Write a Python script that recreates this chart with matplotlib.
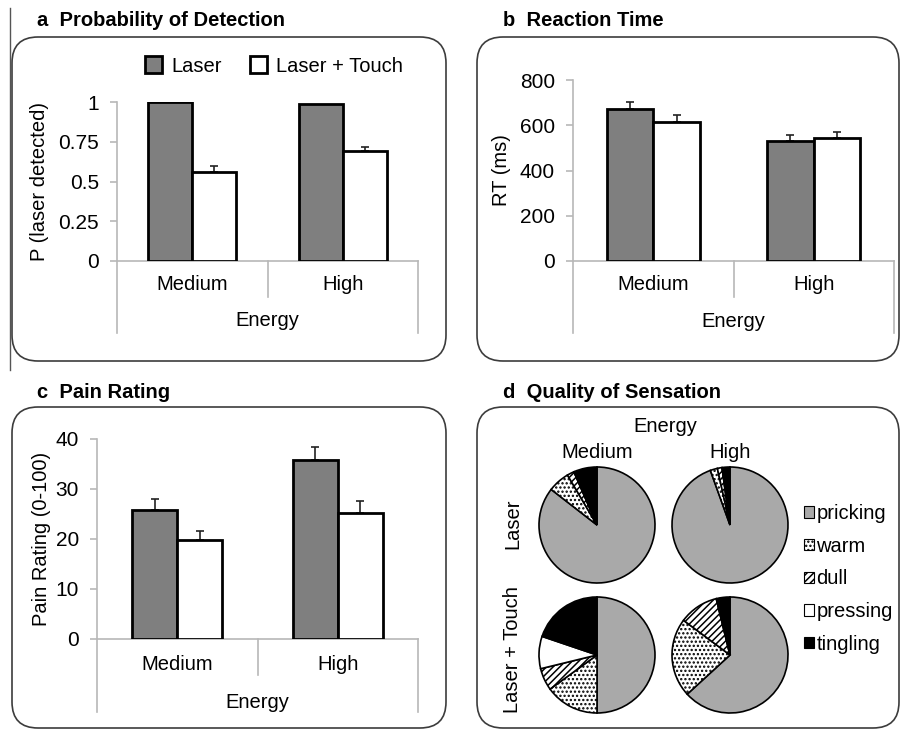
import matplotlib
matplotlib.use("Agg")
import matplotlib.pyplot as plt
from matplotlib.patches import FancyBboxPatch, Patch
from matplotlib.lines import Line2D
from matplotlib.transforms import IdentityTransform

plt.rcParams['font.family'] = ['Liberation Sans', 'DejaVu Sans']
plt.rcParams['hatch.linewidth'] = 1.1

# data
categories = ['Medium', 'High']
conditions = ['Laser', 'Laser + Touch']

det_laser = [1.0, 0.99]
det_laser_err = [0.0, 0.0]
det_touch = [0.557, 0.694]
det_touch_err = [0.04, 0.026]

rt_laser = [672, 529]
rt_laser_err = [32, 27]
rt_touch = [613, 542]
rt_touch_err = [33, 27]

pain_laser = [25.8, 35.9]
pain_laser_err = [2.3, 2.6]
pain_touch = [19.9, 25.3]
pain_touch_err = [1.8, 2.3]

qualities = ['pricking', 'warm', 'dull', 'pressing', 'tingling']
q_laser_medium = [85.5, 6.0, 2.0, 0.0, 6.5]
q_laser_high = [94.5, 2.0, 1.3, 0.0, 2.2]
q_touch_medium = [50.0, 15.0, 6.2, 9.0, 19.8]
q_touch_high = [63.2, 22.0, 11.0, 0.0, 3.8]

W, H = 901, 729
fig = plt.figure(figsize=(W / 100, H / 100), dpi=100)
FS = 14.5
TFS = 15
AXCOL = '#b8b8b8'
LASER_COL = '#7f7f7f'
PRICK_COL = '#a9a9a9'


def fx(x):
    return x / W


def fy(y):
    return 1 - y / H


def add_ax(l, r, top, bottom):
    return fig.add_axes([fx(l), fy(bottom), (r - l) / W, (bottom - top) / H])


def rbox(x0, y0, x1, y1, r=26):
    p = FancyBboxPatch((x0, H - y1), x1 - x0, y1 - y0,
                       boxstyle="round,pad=0,rounding_size=%d" % r,
                       transform=IdentityTransform(), facecolor='none',
                       edgecolor='#3c3c3c', lw=1.2)
    fig.add_artist(p)


def bar_panel(ax, laser, laser_err, touch, touch_err, ymax, ticks, ticklabels,
              ylabel, y0, ytop, sep_y, out_y, cat_y, en_y, w=0.29):
    x = [0.5, 1.5]
    ax.bar([v - w / 2 for v in x], laser, w, color=LASER_COL, edgecolor='black',
           lw=2, zorder=3)
    ax.bar([v + w / 2 for v in x], touch, w, color='white', edgecolor='black',
           lw=2, zorder=3)
    ekw = dict(fmt='none', ecolor='#222222', elinewidth=1.2, capsize=3,
               capthick=1.2, zorder=2)
    if any(laser_err):
        ax.errorbar([v - w / 2 for v in x], laser,
                    yerr=[[0] * len(laser), laser_err], **ekw)
    ax.errorbar([v + w / 2 for v in x], touch,
                yerr=[[0] * len(touch), touch_err], **ekw)
    ax.set_xlim(0, 2)
    ax.set_ylim(0, ymax)
    ax.set_yticks(ticks)
    ax.set_yticklabels(ticklabels, fontsize=TFS)
    ax.set_xticks([])
    for s in ['top', 'right']:
        ax.spines[s].set_visible(False)
    for s in ['left', 'bottom']:
        ax.spines[s].set_color(AXCOL)
        ax.spines[s].set_linewidth(1.2)
    ax.tick_params(axis='y', length=5, width=1.2, color=AXCOL, pad=8)
    ax.set_ylabel(ylabel, fontsize=FS)
    ax.patch.set_alpha(0)
    span = y0 - ytop
    tr = ax.get_xaxis_transform()
    ax.plot([1, 1], [0, -(sep_y - y0) / span], transform=tr, clip_on=False,
            color=AXCOL, lw=1.2)
    for xv in [0, 2]:
        ax.plot([xv, xv], [0, -(out_y - y0) / span], transform=tr,
                clip_on=False, color=AXCOL, lw=1.2)
    for xv, c in zip(x, categories):
        ax.text(xv, -(cat_y - y0) / span, c, transform=tr, ha='center',
                va='center', fontsize=FS)
    ax.text(1, -(en_y - y0) / span, 'Energy', transform=tr, ha='center',
            va='center', fontsize=FS)


# stray line at the left edge
fig.add_artist(Line2D([fx(10), fx(10)], [fy(8), fy(370)], color='#555555',
                      lw=1.0))

# panel a
fig.text(fx(37), fy(21), 'a  Probability of Detection', fontsize=FS,
         fontweight='bold', va='center')
rbox(12, 37, 446, 361)
ax_a = add_ax(117, 418, 102, 261)
bar_panel(ax_a, det_laser, det_laser_err, det_touch, det_touch_err, 1.0,
          [0, 0.25, 0.5, 0.75, 1], ['0', '0.25', '0.5', '0.75', '1'],
          'P (laser detected)', 261, 102, 297, 333, 285, 321, w=0.293)
ax_a.yaxis.set_label_coords(-0.225, 0.5)
handles = [Patch(facecolor=LASER_COL, edgecolor='black', lw=2),
           Patch(facecolor='white', edgecolor='black', lw=2)]
fig.legend(handles, conditions, loc='center', ncol=2, frameon=False,
           fontsize=FS, bbox_to_anchor=(fx(274), fy(66)),
           handlelength=0.85, handleheight=0.85, handletextpad=0.45,
           columnspacing=1.4)

# panel b
fig.text(fx(503), fy(21), 'b  Reaction Time', fontsize=FS, fontweight='bold',
         va='center')
rbox(477, 37, 899, 361)
ax_b = add_ax(573, 894, 80, 261)
bar_panel(ax_b, rt_laser, rt_laser_err, rt_touch, rt_touch_err, 800,
          [0, 200, 400, 600, 800], ['0', '200', '400', '600', '800'],
          'RT (ms)', 261, 80, 297, 333, 285, 322)
ax_b.yaxis.set_label_coords(-0.193, 0.5)

# panel c
fig.text(fx(37), fy(393), 'c  Pain Rating', fontsize=FS, fontweight='bold',
         va='center')
rbox(12, 407, 446, 728)
ax_c = add_ax(97, 418, 439, 639)
bar_panel(ax_c, pain_laser, pain_laser_err, pain_touch, pain_touch_err, 40,
          [0, 10, 20, 30, 40], ['0', '10', '20', '30', '40'],
          'Pain Rating (0-100)', 639, 439, 675, 712, 665, 702, w=0.28)
ax_c.yaxis.set_label_coords(-0.143, 0.5)

# panel d
fig.text(fx(503), fy(393), 'd  Quality of Sensation', fontsize=FS,
         fontweight='bold', va='center')
rbox(477, 407, 899, 728)
fig.text(fx(665), fy(427), 'Energy', fontsize=FS, ha='center', va='center')
fig.text(fx(597), fy(452), 'Medium', fontsize=FS, ha='center', va='center')
fig.text(fx(730), fy(452), 'High', fontsize=FS, ha='center', va='center')
fig.text(fx(513), fy(524), 'Laser', fontsize=FS, ha='center', va='center',
         rotation=90)
fig.text(fx(513), fy(650), 'Laser + Touch', fontsize=FS, ha='center',
         va='center', rotation=90)

pie_colors = [PRICK_COL, 'white', 'white', 'white', 'black']
pie_hatches = ['', '....', '/////', '', '']
R = 58
pies = [(q_laser_medium, 597, 525), (q_laser_high, 730, 525),
        (q_touch_medium, 597, 655), (q_touch_high, 730, 655)]
for vals, cx, cy in pies:
    m = 1.03
    ax = add_ax(cx - R * m, cx + R * m, cy - R * m, cy + R * m)
    wedges, _ = ax.pie(vals, colors=pie_colors, startangle=90,
                       counterclock=False,
                       wedgeprops=dict(edgecolor='black', lw=1.2))
    for wdg, h in zip(wedges, pie_hatches):
        wdg.set_hatch(h)
    ax.set_xlim(-m, m)
    ax.set_ylim(-m, m)
    ax.set_aspect('equal')

q_handles = [Patch(facecolor=c, edgecolor='black', hatch=h, lw=0.8)
             for c, h in zip(pie_colors, pie_hatches)]
fig.legend(q_handles, qualities, loc='center left', frameon=False,
           fontsize=FS, bbox_to_anchor=(fx(804), fy(579)),
           handlelength=0.5, handleheight=0.5, handletextpad=0.12,
           labelspacing=0.68, borderpad=0, borderaxespad=0)

fig.savefig('out.png', dpi=100)
